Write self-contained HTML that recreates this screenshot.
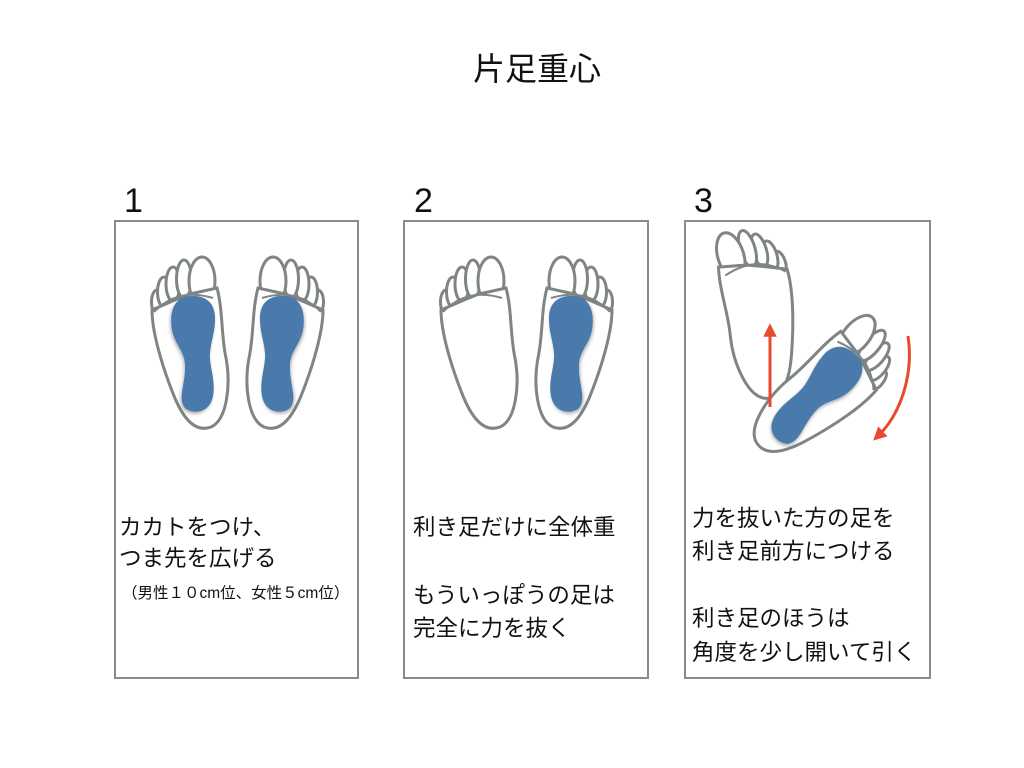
<!DOCTYPE html>
<html><head><meta charset="utf-8"><style>
html,body{margin:0;padding:0;background:#fff;}
svg{display:block;}
text{font-family:"Liberation Sans","Noto Sans CJK JP",sans-serif;fill:#111;}
</style></head><body>
<svg width="1024" height="768" viewBox="0 0 1024 768" xmlns="http://www.w3.org/2000/svg">
<defs>
<filter id="sh" x="-20%" y="-20%" width="140%" height="140%"><feDropShadow dx="1" dy="2" stdDeviation="1.5" flood-color="#000" flood-opacity="0.3"/></filter>
<g id="foot">
  <g fill="#fff" stroke="#7f8583" stroke-width="3">
    <ellipse cx="318" cy="302" rx="5.5" ry="12"/>
    <ellipse cx="311" cy="292" rx="6.5" ry="15"/>
    <ellipse cx="302" cy="284" rx="7" ry="17"/>
    <ellipse cx="291" cy="279" rx="7.5" ry="19"/>
    <ellipse cx="273" cy="281" rx="13" ry="24"/>
    <path d="M258,288 C252,310 254,335 249,358 C244,385 248,420 264,427 C280,433 292,418 301,396 C313,366 323,332 323,310 L300,300 L285,294 Z"/>
  </g>
  <path d="M262,298 C285,291 305,295 321,312" fill="none" stroke="#7f8583" stroke-width="2"/>
</g>
<g id="sole">
  <path d="M260,320 C259,300 273,295 285,296 C301,297 306,312 303,330 C300,345 291,350 290,364 C289,384 298,398 290,408 C282,415 265,413 262,396 C259,380 266,366 265,353 C264,341 260,332 260,320 Z" fill="#4a7aab" filter="url(#sh)"/>
</g>
<marker id="ah" viewBox="0 0 10 10" refX="5" refY="5" markerWidth="4.5" markerHeight="4.5" orient="auto"><path d="M0,0 L10,5 L0,10 Z" fill="#e84a2e"/></marker>
</defs>

<text x="537" y="80" font-size="32" text-anchor="middle">片足重心</text>

<text x="124" y="212" font-size="34">1</text>
<text x="414" y="212" font-size="34">2</text>
<text x="694" y="212" font-size="34">3</text>

<g fill="#fff" stroke="#8a8a8a" stroke-width="2">
  <rect x="115" y="221" width="243" height="457"/>
  <rect x="404" y="221" width="244" height="457"/>
  <rect x="685" y="221" width="245" height="457"/>
</g>

<use href="#foot" transform="translate(475,0) scale(-1,1)"/>
<use href="#sole" transform="translate(475,0) scale(-1,1)"/>
<use href="#foot"/>
<use href="#sole"/>
<use href="#foot" transform="translate(764,0) scale(-1,1)"/>
<use href="#foot" transform="translate(289,0)"/>
<use href="#sole" transform="translate(289,0)"/>
<use href="#foot" transform="translate(763,310) rotate(-17) translate(-288,-342)"/>
<use href="#foot" transform="translate(829,392) rotate(40) translate(-288,-342)"/>
<use href="#sole" transform="translate(829,392) rotate(40) translate(-288,-342)"/>
<line x1="770" y1="407" x2="770" y2="330" stroke="#e84a2e" stroke-width="3" marker-end="url(#ah)"/>
<path d="M908,336 C914,375 900,415 878,436" fill="none" stroke="#e84a2e" stroke-width="3" marker-end="url(#ah)"/>

<g font-size="22.5">
<text x="119" y="535">カカトをつけ、</text>
<text x="119" y="566">つま先を広げる</text>
<text x="413" y="535">利き足だけに全体重</text>
<text x="413" y="603">もういっぽうの足は</text>
<text x="413" y="636">完全に力を抜く</text>
<text x="692" y="526">力を抜いた方の足を</text>
<text x="692" y="559">利き足前方につける</text>
<text x="692" y="626">利き足のほうは</text>
<text x="692" y="660">角度を少し開いて引く</text>
</g>
<text x="122" y="598" font-size="15.5">（男性１０cm位、女性５cm位）</text>
</svg>
</body></html>
